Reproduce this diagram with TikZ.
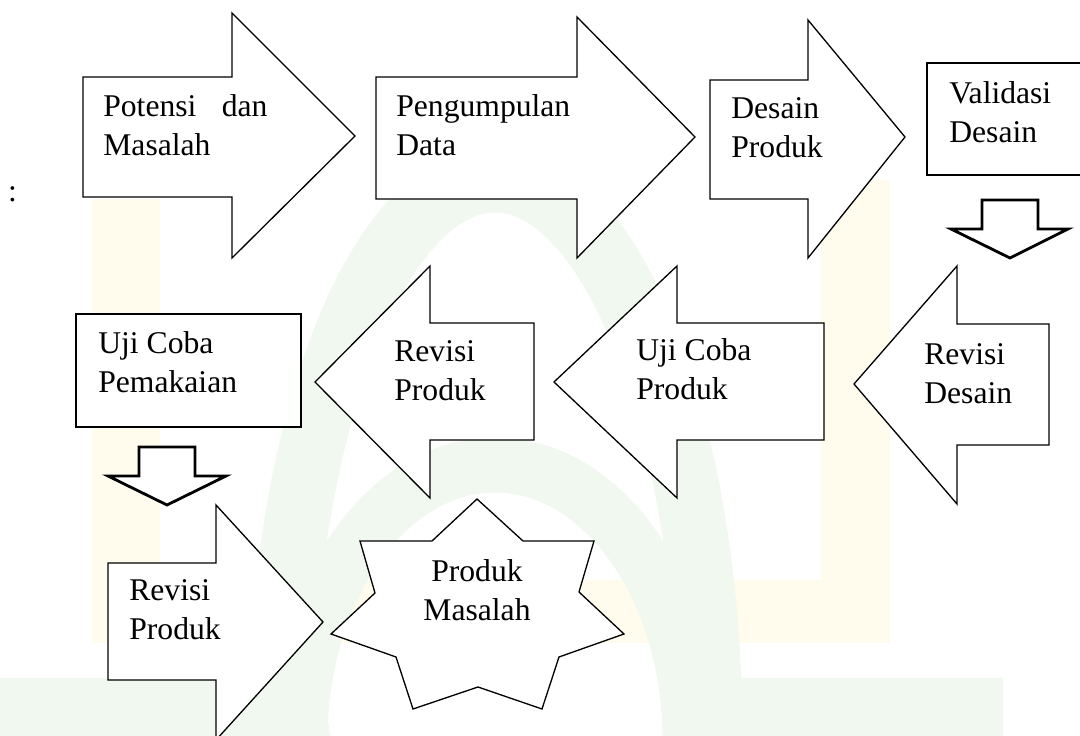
\documentclass[tikz,border=0pt]{standalone}
\usepackage{fontspec}
\setmainfont{Liberation Serif}
\definecolor{wmyellow}{RGB}{255,252,238}
\definecolor{wmgreen}{RGB}{241,248,239}
\begin{document}
\begin{tikzpicture}[x=0.02cm,y=-0.02cm,line join=miter]
\tikzset{
  shp/.style={draw=black,fill=white,line width=0.75pt},
  downarrow/.style={draw=black,fill=white,line width=1.6pt},
  lbl/.style={anchor=north west,inner sep=0pt,align=left,
              font=\fontsize{18}{22.5}\selectfont},
  clbl/.style={anchor=north,inner sep=0pt,align=center,
              font=\fontsize{18}{22.5}\selectfont},
  wmY/.style={fill=wmyellow,draw=none},
  wmG/.style={fill=wmgreen,draw=none},
  wmGline/.style={draw=wmgreen,line cap=butt},
}
\useasboundingbox (0,0) rectangle (1080,736);
\fill[white] (0,0) rectangle (1080,736);

% faint watermark
\fill[wmY] (92,199) rectangle (160,643);
\fill[wmY] (821,180) rectangle (890,643);
\fill[wmY] (92,580) rectangle (890,643);
\draw[wmGline,line width=1.3cm] (280,740) arc[start angle=180,end angle=360,x radius=215,y radius=560];
\draw[wmGline,line width=1.1cm] (300,740) arc[start angle=180,end angle=360,x radius=195,y radius=275];
\fill[wmG] (0,678) -- (270,678) arc[start angle=-90,end angle=0,radius=60] -- (330,736) -- (0,736) -- cycle;
\fill[wmG] (1003,678) -- (729,678) arc[start angle=-90,end angle=-180,radius=60] -- (669,736) -- (1003,736) -- cycle;

% top row
\draw[shp] (83,77) -- (232,77) -- (232,13) -- (355,136) -- (232,258) -- (232,197) -- (83,197) -- cycle;
\draw[shp] (376,77) -- (577,77) -- (577,17) -- (695,137) -- (577,258) -- (577,199) -- (376,199) -- cycle;
\draw[shp] (710,80) -- (808,80) -- (808,20) -- (905,137) -- (808,258) -- (808,199) -- (710,199) -- cycle;
\draw[shp] (927,63) rectangle (1095,175);
\draw[downarrow] (982,200) -- (1038,200) -- (1038,229) -- (1068,229) -- (1010,258) -- (951,229) -- (982,229) -- cycle;

% middle row
\draw[shp] (76,314) rectangle (301,427);
\draw[shp] (315,382) -- (430,266) -- (430,323) -- (534,323) -- (534,440) -- (430,440) -- (430,498) -- cycle;
\draw[shp] (554,382) -- (677,266) -- (677,323) -- (824,323) -- (824,440) -- (677,440) -- (677,498) -- cycle;
\draw[shp] (854,384) -- (957,266) -- (957,324) -- (1049,324) -- (1049,445) -- (957,445) -- (957,504) -- cycle;
\draw[downarrow] (139,447) -- (195,447) -- (195,476) -- (226,476) -- (167,505) -- (108,476) -- (139,476) -- cycle;

% bottom row
\draw[shp] (108,563) -- (216,563) -- (216,505) -- (323,622) -- (216,740) -- (216,680) -- (108,680) -- cycle;
\draw[shp] (477,499) -- (523,541) -- (594,541) -- (579,592) -- (624,634) -- (559,657) -- (542,709) -- (478,687)
  -- (413,709) -- (396,657) -- (331,634) -- (375,593) -- (360,541) -- (432,541) -- cycle;

% labels
\node[anchor=base,inner sep=0pt,font=\fontsize{18}{22.5}\selectfont] (colon) at (12.5,202) {:};
\node[lbl] (potensi) at (103,94) {Potensi\hspace{0.8em}dan\\Masalah};
\node[lbl] (pengumpulan) at (396,94) {Pengumpulan\\Data};
\node[lbl] (desain) at (731,97) {Desain\\Produk};
\node[lbl] (validasi) at (949,81) {Validasi\\Desain};
\node[lbl] (ujipakai) at (98,331) {Uji Coba\\Pemakaian};
\node[lbl] (revprod) at (394,340) {Revisi\\Produk};
\node[lbl] (ujiprod) at (636,338) {Uji Coba\\Produk};
\node[lbl] (revdesain) at (924,343) {Revisi\\Desain};
\node[lbl] (revprod2) at (129,579) {Revisi\\Produk};
\node[clbl] (produkmasalah) at (477,559) {Produk\\Masalah};
\end{tikzpicture}
\end{document}
